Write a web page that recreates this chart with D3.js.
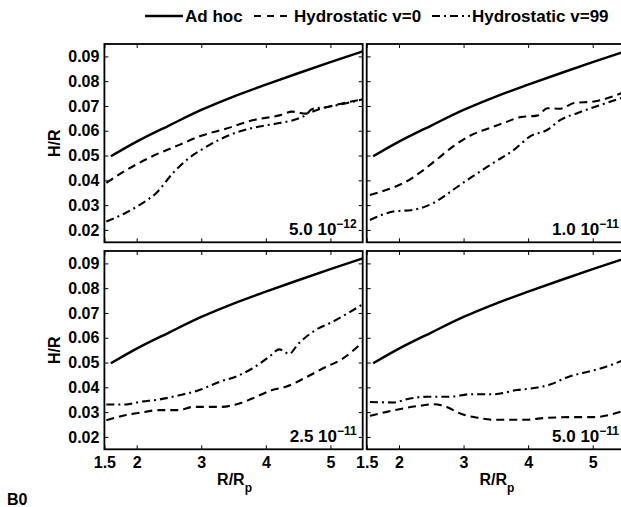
<!DOCTYPE html>
<html>
<head>
<meta charset="utf-8">
<script src="https://cdn.jsdelivr.net/npm/d3@7"></script>
<style>
  body { margin: 0; background: #fff; }
  svg { display: block; font-family: "Liberation Sans", Arial, sans-serif; font-weight: bold; }
</style>
</head>
<body>
<div id="chart"></div>
<script>
// R/Rp values and H/R readings, one array per curve
const adHoc = [[1.6, 0.0497], [2.0, 0.0556], [2.5, 0.0621], [3.0, 0.0684], [3.5, 0.0738], [4.0, 0.0786], [4.5, 0.0832], [5.0, 0.0877], [5.5, 0.0920]];

const v0Panel1 = [[1.53, 0.039], [1.76, 0.0429], [2.0, 0.0465], [2.25, 0.0498], [2.66, 0.0543], [3.0, 0.058], [3.38, 0.0608], [3.79, 0.0642], [4.21, 0.0662], [4.41, 0.0677], [4.62, 0.0669], [4.77, 0.0682], [5.03, 0.0701], [5.5, 0.0727]];
const v99Panel1 = [[1.53, 0.0234], [1.84, 0.027], [2.09, 0.0308], [2.3, 0.0348], [2.56, 0.0429], [2.81, 0.049], [3.0, 0.0523], [3.28, 0.0564], [3.59, 0.0597], [3.9, 0.0617], [4.21, 0.0631], [4.52, 0.0651], [4.62, 0.0664], [4.72, 0.0688], [4.93, 0.0695], [5.5, 0.0727]];

const v0Panel2 = [[1.55, 0.0341], [1.81, 0.0362], [2.07, 0.0389], [2.33, 0.0432], [2.58, 0.0483], [2.84, 0.0537], [3.1, 0.058], [3.36, 0.0607], [3.62, 0.0631], [3.88, 0.0655], [4.14, 0.0661], [4.3, 0.0691], [4.5, 0.0689], [4.71, 0.0712], [5.02, 0.0718], [5.5, 0.0757]];
const v99Panel2 = [[1.55, 0.024], [1.91, 0.0274], [2.22, 0.0281], [2.53, 0.0308], [2.84, 0.0362], [3.1, 0.0409], [3.46, 0.047], [3.78, 0.0523], [4.03, 0.0577], [4.3, 0.0604], [4.5, 0.0644], [4.76, 0.0671], [5.13, 0.0705], [5.5, 0.0737]];

const v0Panel3 = [[1.53, 0.0267], [1.84, 0.0288], [2.04, 0.0297], [2.35, 0.0308], [2.66, 0.0308], [2.87, 0.0321], [3.28, 0.0321], [3.59, 0.0335], [3.79, 0.0355], [4.1, 0.0389], [4.31, 0.0402], [4.62, 0.044], [4.88, 0.0476], [5.19, 0.0516], [5.5, 0.0582]];
const v99Panel3 = [[1.53, 0.0331], [1.84, 0.0331], [2.04, 0.0341], [2.35, 0.0351], [2.66, 0.0368], [2.97, 0.0389], [3.28, 0.0422], [3.59, 0.0449], [3.79, 0.0476], [4.05, 0.0523], [4.21, 0.0553], [4.36, 0.0535], [4.5, 0.0575], [4.77, 0.0631], [5.03, 0.0664], [5.5, 0.0735]];

const v0Panel4 = [[1.55, 0.0285], [1.81, 0.0301], [2.07, 0.0315], [2.33, 0.0326], [2.53, 0.0332], [2.74, 0.0321], [2.95, 0.0294], [3.2, 0.0278], [3.46, 0.0269], [3.98, 0.0269], [4.24, 0.0276], [4.76, 0.028], [5.02, 0.028], [5.5, 0.0308]];
const v99Panel4 = [[1.55, 0.0341], [1.91, 0.0339], [2.17, 0.0355], [2.43, 0.0362], [2.79, 0.0362], [3.1, 0.0372], [3.46, 0.0372], [3.83, 0.0389], [4.03, 0.0395], [4.34, 0.0411], [4.6, 0.044], [4.91, 0.0462], [5.12, 0.0476], [5.5, 0.0512]];

const panelMantissa = ["5.0 10", "1.0 10", "2.5 10", "5.0 10"];
const panelExponent = ["\u221212", "\u221211", "\u221211", "\u221211"];
const xTicks = [1.5, 2, 3, 4, 5];
const yTicks = [0.02, 0.03, 0.04, 0.05, 0.06, 0.07, 0.08, 0.09];
const seriesNames = ["Ad hoc", "Hydrostatic v=0", "Hydrostatic v=99"];

const width = 621, height = 507;
const pw = 258.3, ph = 198.3;
const lefts = [104.4, 366.7], tops = [44, 251];
const dashes = [null, "8,5", "8,4,2,4"];

const svg = d3.select("#chart").append("svg")
    .attr("width", width)
    .attr("height", height);

const x = d3.scaleLinear().domain([1.5, 5.5]).range([0, pw]);
const y = d3.scaleLinear().domain([0.015, 0.095]).range([ph, 0]);
const line = d3.line().x(d => x(d[0])).y(d => y(d[1])).curve(d3.curveMonotoneX);

const panels = [
    [adHoc, v0Panel1, v99Panel1],
    [adHoc, v0Panel2, v99Panel2],
    [adHoc, v0Panel3, v99Panel3],
    [adHoc, v0Panel4, v99Panel4]
];

panels.forEach((series, i) => {
    const col = i % 2, row = Math.floor(i / 2);
    const g = svg.append("g").attr("transform", `translate(${lefts[col]},${tops[row]})`);

    g.append("clipPath").attr("id", "clip" + i)
        .append("rect").attr("width", pw).attr("height", ph);

    // inward ticks on all four sides
    const left = g.append("g").call(d3.axisLeft(y).tickValues(yTicks).tickSize(-4).tickPadding(5)
        .tickFormat(col === 0 ? d3.format(".2f") : ""));
    const right = g.append("g").attr("transform", `translate(${pw},0)`)
        .call(d3.axisRight(y).tickValues(yTicks).tickSize(-4).tickFormat(""));
    const top = g.append("g").call(d3.axisTop(x).tickValues(xTicks).tickSize(-4).tickFormat(""));
    const bottom = g.append("g").attr("transform", `translate(0,${ph})`)
        .call(d3.axisBottom(x).tickValues(xTicks).tickSize(-4).tickPadding(7)
        .tickFormat(row === 1 ? d => d : ""));

    [left, right, top, bottom].forEach(a => {
        a.select(".domain").remove();
        a.selectAll("line").attr("stroke", "#000").attr("stroke-width", 1);
        a.selectAll("text").attr("font-size", 16).attr("font-family", "Liberation Sans, Arial, sans-serif")
            .attr("font-weight", "bold").attr("fill", "#000");
    });

    g.append("g").attr("clip-path", `url(#clip${i})`)
        .selectAll("path")
        .data(series)
        .enter()
        .append("path")
        .attr("d", line)
        .attr("fill", "none")
        .attr("stroke", "#000")
        .attr("stroke-width", (d, j) => j === 0 ? 2.4 : 2.1)
        .attr("stroke-dasharray", (d, j) => dashes[j]);

    g.append("rect")
        .attr("width", pw).attr("height", ph)
        .attr("fill", "none").attr("stroke", "#000").attr("stroke-width", 1.8);

    // panel label
    const lab = g.append("text")
        .attr("x", pw - 6).attr("y", ph - 7)
        .attr("text-anchor", "end")
        .attr("font-size", 17);
    lab.append("tspan").text(panelMantissa[i]);
    lab.append("tspan").attr("dy", -7).attr("font-size", 12).text(panelExponent[i]);

    if (col === 0) {
        g.append("text")
            .attr("transform", `translate(${54 - lefts[0]},${ph / 2}) rotate(-90)`)
            .attr("text-anchor", "middle")
            .attr("dy", "0.36em")
            .attr("font-size", 16)
            .text("H/R");
    }
    if (row === 1) {
        const xl = g.append("text")
            .attr("x", pw / 2 + 1).attr("y", ph + 36)
            .attr("text-anchor", "middle")
            .attr("font-size", 16);
        xl.append("tspan").text("R/R");
        xl.append("tspan").attr("dy", 7).attr("font-size", 12).text("p");
    }
});

// legend
const legendX = [145, 254, 432];
const legend = svg.append("g")
    .selectAll("g")
    .data(seriesNames)
    .enter()
    .append("g")
    .attr("transform", (d, i) => `translate(${legendX[i]},0)`);
legend.append("line")
    .attr("x1", 0).attr("x2", 38).attr("y1", 16).attr("y2", 16)
    .attr("stroke", "#000")
    .attr("stroke-width", (d, i) => i === 0 ? 2.4 : 2.1)
    .attr("stroke-dasharray", (d, i) => i === 1 ? "7,6" : dashes[i]);
legend.append("text")
    .attr("x", 40).attr("y", 22)
    .attr("font-size", 17)
    .text(d => d);

svg.append("text")
    .attr("x", 7).attr("y", 505)
    .attr("font-size", 16)
    .text("B0");
</script>
</body>
</html>
